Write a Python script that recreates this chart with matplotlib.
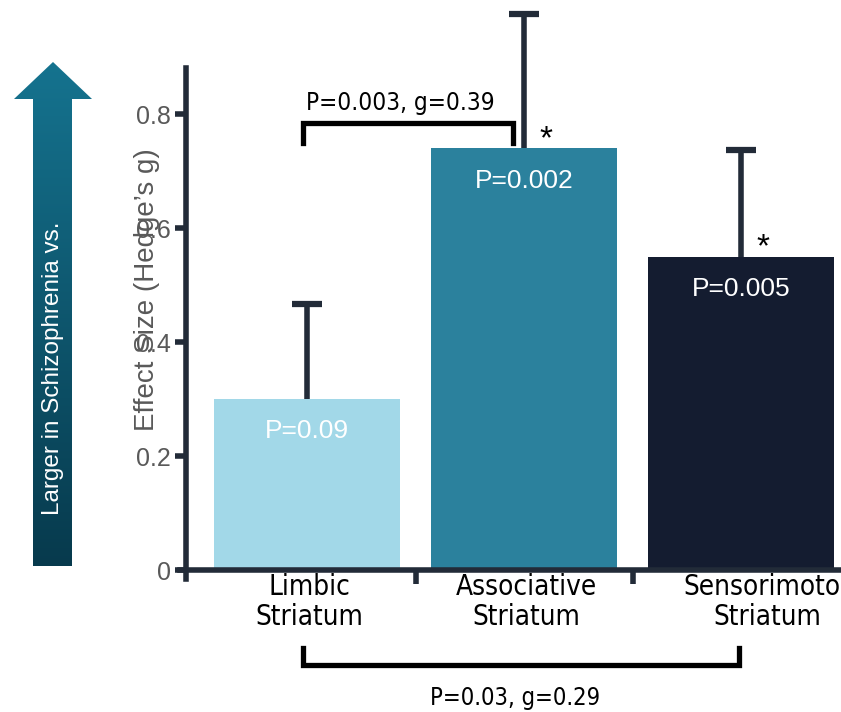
import numpy as np
import matplotlib.pyplot as plt
from matplotlib.patches import Polygon
from matplotlib.colors import LinearSegmentedColormap

categories = ["Limbic\nStriatum", "Associative\nStriatum", "Sensorimotor\nStriatum"]
effect = [0.30, 0.74, 0.55]
err_upper = [0.167, 0.236, 0.187]
bar_p = ["P=0.09", "P=0.002", "P=0.005"]
signif = [False, True, True]
bar_colors = ["#a2d8e8", "#2b819d", "#141c30"]

top_pair = (0, 1, "P=0.003, g=0.39")
bottom_pair = (0, 2, "P=0.03, g=0.29")

dark = "#222b38"
plain = ["Liberation Sans", "DejaVu Sans"]
narrow = dict(family="DejaVu Sans", stretch="condensed")

fig = plt.figure(figsize=(8.41, 7.12), dpi=100)
ax = fig.add_axes([180 / 841, 1 - 570 / 712, 661 / 841, 570 / 712])

x = np.arange(len(categories))
ax.bar(x, effect, width=0.857, color=bar_colors, zorder=2)
eb = ax.errorbar(x, effect, yerr=[np.zeros(3), err_upper], fmt="none",
                 ecolor=dark, elinewidth=4, capsize=11, capthick=4.5, zorder=1)
eb[1][0].set_visible(False)  # no lower cap

for i in range(len(categories)):
    ax.text(x[i], effect[i] - 0.057, bar_p[i], color="white", fontsize=19,
            ha="center", va="center", family=plain, zorder=3)
    if signif[i]:
        ax.text(x[i] + 0.1, effect[i] + 0.015, "*", color="black", fontsize=24,
                ha="center", va="center", family=plain)
    dx = 0.12 if i == 2 else 0.01
    ax.text(x[i] + dx, -0.006, categories[i], ha="center", va="top",
            fontsize=20, linespacing=1.05, clip_on=False, **narrow)

# top bracket
a, b, lab = top_pair
ax.plot([a - 0.02, a - 0.02, b - 0.05, b - 0.05], [0.749, 0.784, 0.784, 0.749],
        color="black", lw=3.8, solid_joinstyle="miter")
ax.text((a + b) / 2 - 0.07, 0.82, lab, ha="center", va="center",
        fontsize=17.5, **narrow)

# bottom bracket
a, b, lab = bottom_pair
ax.plot([a - 0.02, a - 0.02, b - 0.01, b - 0.01], [-0.137, -0.167, -0.167, -0.137],
        color="black", lw=3.8, solid_joinstyle="miter", clip_on=False)
ax.text((a + b) / 2 - 0.04, -0.225, lab, ha="center", va="center",
        fontsize=17, clip_on=False, **narrow)

ax.set_xlim(-0.585, 2.46)
ax.set_ylim(0, 1.0)
ax.spines["top"].set_visible(False)
ax.spines["right"].set_visible(False)
ax.spines["left"].set_position(("data", -0.558))
ax.spines["left"].set_bounds(-0.016, 0.88)
for s in ["left", "bottom"]:
    ax.spines[s].set_color(dark)
    ax.spines[s].set_linewidth(4)
ax.set_yticks([0, 0.2, 0.4, 0.6, 0.8])
ax.set_yticklabels(["0", "0.2", "0.4", "0.6", "0.8"])
ax.tick_params(axis="y", length=8, width=4, color=dark, labelcolor="#595959",
               labelsize=18, pad=3)
for t in ax.get_yticklabels():
    t.set_family(plain)
ax.set_xticks([])
ax.set_xticks([0.5, 1.5], minor=True)
ax.tick_params(axis="x", which="minor", length=10, width=4, color=dark)

fig.text(147 / 841, 1 - 290 / 712, "Effect Size (Hedge\u2019s g)", rotation=90,
         ha="center", va="center", color="#595959", fontsize=20, family=plain)

# gradient arrow on the left
ov = fig.add_axes([0, 0, 1, 1], zorder=-1)
ov.axis("off")
pts = [(53, 62), (92, 99), (72, 99), (72, 566), (33, 566), (33, 99), (14, 99)]
poly = Polygon(pts, closed=True, facecolor="none", edgecolor="none")
ov.add_patch(poly)
grad = np.linspace(0, 1, 256).reshape(-1, 1)
cm = LinearSegmentedColormap.from_list("arr", ["#15738f", "#073a4d"])
im = ov.imshow(grad, cmap=cm, extent=[14, 92, 566, 62], aspect="auto")
im.set_clip_path(poly)
ov.set_xlim(0, 841)
ov.set_ylim(712, 0)
fig.text(53 / 841, 1 - 368 / 712, "Larger in Schizophrenia vs.", rotation=90,
         ha="center", va="center", color="white", fontsize=17.5, family=plain)

fig.savefig("out.png", dpi=100)
